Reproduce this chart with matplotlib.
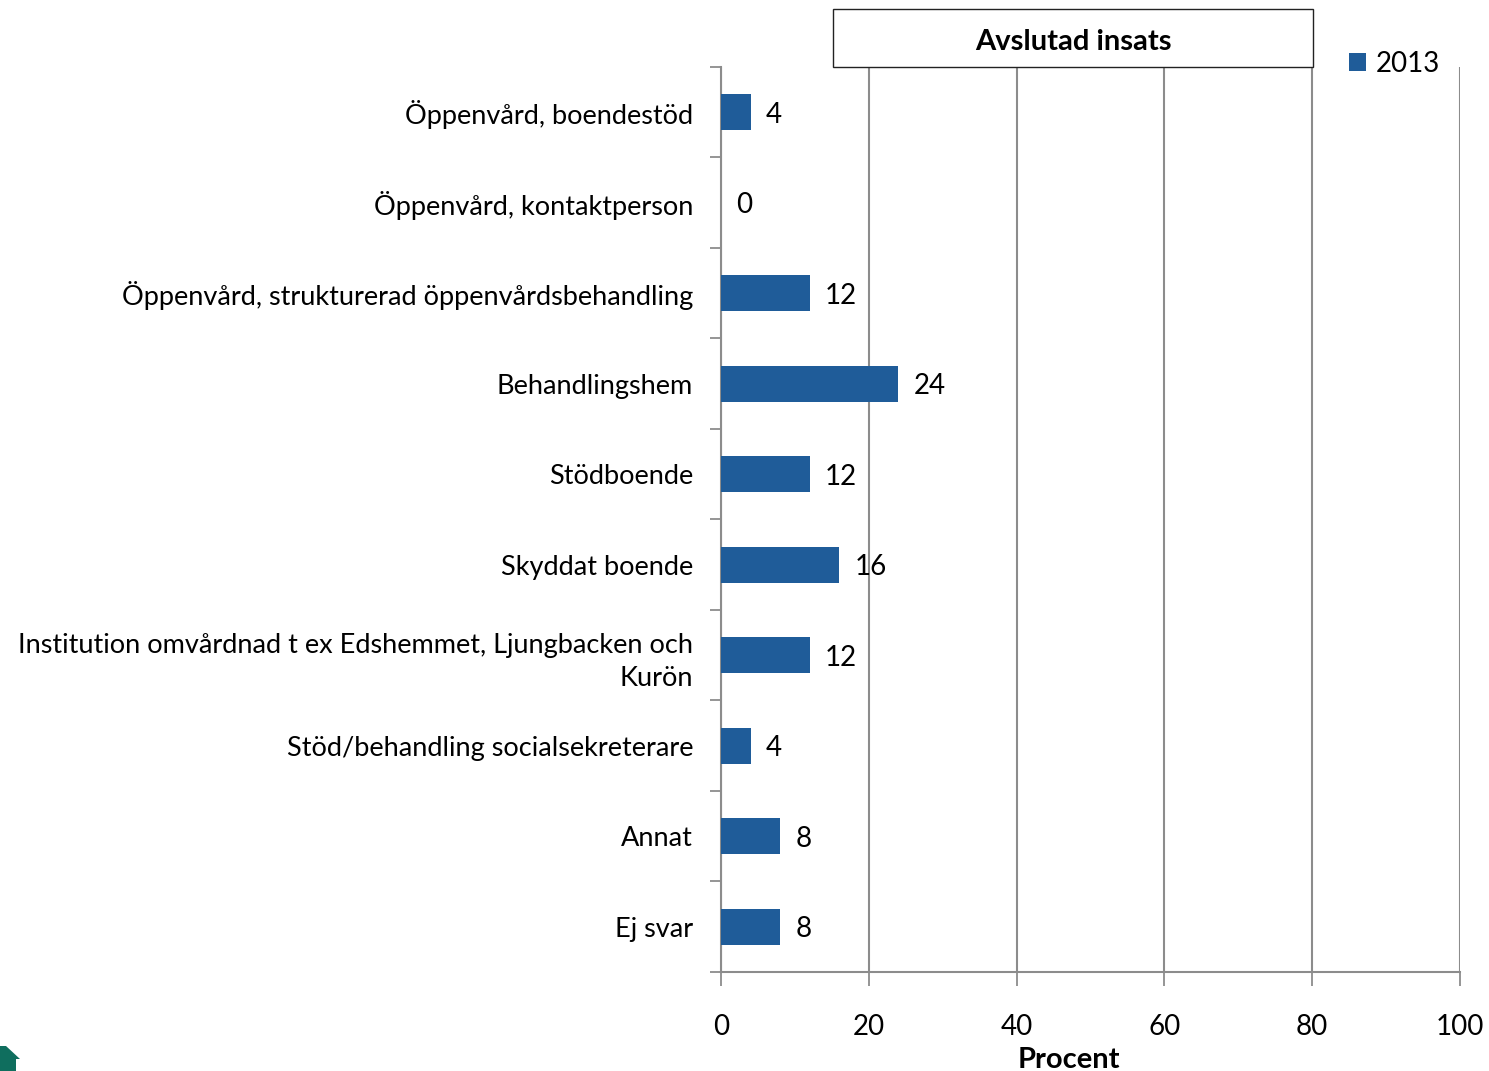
import matplotlib
matplotlib.use("Agg")
import matplotlib.pyplot as plt
from matplotlib.patches import Rectangle, Polygon
import numpy as np

plt.rcParams['font.family'] = ['Lato', 'DejaVu Sans']

categories = [
    "Öppenvård, boendestöd",
    "Öppenvård, kontaktperson",
    "Öppenvård, strukturerad öppenvårdsbehandling",
    "Behandlingshem",
    "Stödboende",
    "Skyddat boende",
    "Institution omvårdnad t ex Edshemmet, Ljungbacken och\nKurön",
    "Stöd/behandling socialsekreterare",
    "Annat",
    "Ej svar",
]
values_2013 = [4, 0, 12, 24, 12, 16, 12, 4, 8, 8]
x_ticks = [0, 20, 40, 60, 80, 100]
series_name = "2013"
title = "Avslutad insats"
x_label = "Procent"

W, H = 1489, 1071
fig = plt.figure(figsize=(W / 100, H / 100), dpi=100)
ax = fig.add_axes([721 / W, 1 - 972 / H, (1460 - 721) / W, (972 - 67) / H])

bar_color = "#1f5c99"
grid_color = "#8c8c8c"
fs = 20

y = np.arange(len(categories))
ax.barh(y, values_2013, height=0.4, color=bar_color, label=series_name, zorder=3)

for yi, v in zip(y, values_2013):
    ax.annotate(f"{v}", xy=(v, yi), xytext=(11, 0), textcoords="offset points",
                ha="left", va="center_baseline", fontsize=fs, zorder=4)

ax.set_xlim(0, 100)
ax.set_ylim(len(categories) - 0.5, -0.5)
ax.set_xticks(x_ticks)
ax.set_xticklabels([str(t) for t in x_ticks], fontsize=fs)
ax.set_yticks(y)
ax.set_yticklabels(categories, fontsize=19.5, ha="right", linespacing=1.4)
for lbl in ax.get_yticklabels():
    lbl.set_va("center_baseline")
ax.set_yticks(np.arange(-0.5, len(categories), 1), minor=True)

ax.tick_params(axis="y", which="major", length=0, pad=20)
ax.tick_params(axis="y", which="minor", length=8, width=1.3, color=grid_color, direction="out")
ax.tick_params(axis="x", which="major", length=10, width=1.3, color=grid_color, direction="out", pad=20)

ax.xaxis.grid(True, color=grid_color, linewidth=1.5, zorder=0)
ax.set_axisbelow(True)
for side in ["top", "right"]:
    ax.spines[side].set_visible(False)
for side in ["left", "bottom"]:
    ax.spines[side].set_color(grid_color)
    ax.spines[side].set_linewidth(1.5)

# title box above the plot area
fig.patches.append(Rectangle((833 / W, 1 - 67 / H), (1313 - 833) / W, (67 - 9) / H,
                             transform=fig.transFigure, facecolor="white",
                             edgecolor="#222222", linewidth=1.0, zorder=5))
fig.text(1073 / W, 1 - 39 / H, title, ha="center", va="center_baseline",
         fontsize=21, fontweight="bold", zorder=6)

fig.text(1069 / W, 1 - 1057 / H, x_label, ha="center", va="center_baseline",
         fontsize=21, fontweight="bold")

ax.legend(loc="center left", bbox_to_anchor=(1349 / W, 1 - 64 / H),
          bbox_transform=fig.transFigure, frameon=False, fontsize=fs,
          handlelength=0.6, handleheight=0.6, handletextpad=0.35,
          borderpad=0, borderaxespad=0)

# small logo corner
fig.patches.append(Polygon([(0, 0), (0, 25 / H), (6 / W, 25 / H), (20 / W, 12 / H),
                            (16 / W, 12 / H), (16 / W, 0)],
                           closed=True, transform=fig.transFigure,
                           facecolor="#0f6e5e", edgecolor="none"))

fig.savefig("out.png", dpi=100)
